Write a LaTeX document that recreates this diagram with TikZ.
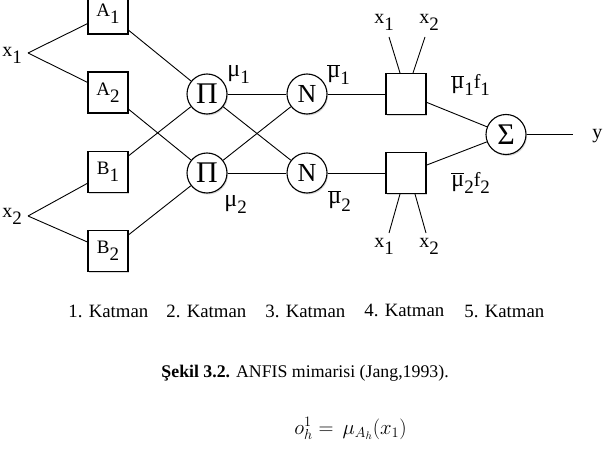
\documentclass[tikz,border=0pt]{standalone}
\usepackage{fontspec}
\setmainfont{Liberation Serif}
\usetikzlibrary{shadows}

\newcommand{\lo}[1]{\raisebox{-7pt}{\fontsize{19}{19}\selectfont #1}}
\newcommand{\muu}{{\fontsize{24}{24}\selectfont μ}}
\newcommand{\mub}{$\overline{\mbox{\muu}}$}

\begin{document}
\begin{tikzpicture}[x=1pt, y=-1pt, line width=0.9pt,
	lbl/.style={font=\fontsize{20}{20}\selectfont, inner sep=0pt, anchor=base west},
	mfbox/.style={draw, fill=white, line width=1.1pt, minimum width=40pt, minimum height=41pt, inner sep=0pt, font=\fontsize{19}{19}\selectfont,
		drop shadow={shadow xshift=1pt, shadow yshift=-1.5pt, opacity=0.3}},
	opnode/.style={draw, circle, fill=white, line width=1.1pt, minimum size=40pt, inner sep=0pt,
		drop shadow={shadow xshift=1pt, shadow yshift=-1.5pt, opacity=0.3}},
	katman/.style={font=\fontsize{18.8}{18.8}\selectfont, inner sep=0pt, anchor=base west}]
	\useasboundingbox (0,0) rectangle (607,473);
	
	\foreach \x/\y/\name/\lab in {
		108/13.5/A1/A\lo{1},
		108/92.5/A2/A\lo{2},
		108/172/B1/B\lo{1},
		108/251/B2/B\lo{2}
	}
	{
		\node [mfbox] (\name) at (\x,\y) {\lab};
	}
	
	\node [opnode, font=\fontsize{30}{30}\selectfont] (P1) at (207,94) {Π};
	\node [opnode, font=\fontsize{30}{30}\selectfont] (P2) at (207,173) {Π};
	\node [opnode, font=\fontsize{26}{26}\selectfont] (N1) at (307,94) {N};
	\node [opnode, font=\fontsize{26}{26}\selectfont] (N2) at (307,173) {N};
	\node [mfbox] (C1) at (406,94) {};
	\node [mfbox] (C2) at (406,173) {};
	\node [opnode, font=\fontsize{30}{30}\selectfont] (S) at (506,134.5) {Σ};
	
	\coordinate (x1in) at (28,53);
	\coordinate (x2in) at (28,216);
	\coordinate (t1) at (389,37);
	\coordinate (t2) at (425,37);
	\coordinate (b1) at (389,233);
	\coordinate (b2) at (426,233);
	\coordinate (yout) at (573,134.5);
	
	\draw (x1in) -- (A1);
	\draw (x1in) -- (A2);
	\draw (x2in) -- (B1);
	\draw (x2in) -- (B2);
	\draw (A1) -- (P1);
	\draw (B1) -- (P1);
	\draw (A2) -- (P2);
	\draw (B2) -- (P2);
	\draw (P1) -- (N1);
	\draw (P1) -- (N2);
	\draw (P2) -- (N1);
	\draw (P2) -- (N2);
	\draw (N1) -- (C1);
	\draw (N2) -- (C2);
	\draw ([xshift=-6pt]C1.north) -- (t1);
	\draw ([xshift=7pt]C1.north) -- (t2);
	\draw ([xshift=-6pt]C2.south) -- (b1);
	\draw ([xshift=9pt]C2.south) -- (b2);
	\draw (C1) -- (S);
	\draw (C2) -- (S);
	\draw (S) -- (yout);
	
	\node [lbl] (lx1) at (2,57) {x\lo{1}};
	\node [lbl] (lx2) at (2,217) {x\lo{2}};
	\node [lbl] (lt1) at (374,24) {x\lo{1}};
	\node [lbl] (lt2) at (419,24) {x\lo{2}};
	\node [lbl] (lb1) at (374,247) {x\lo{1}};
	\node [lbl] (lb2) at (419,247) {x\lo{2}};
	\node [lbl] (mu1) at (227,77) {\muu\lo{1}};
	\node [lbl] (mu2) at (224,206) {\muu\lo{2}};
	\node [lbl] (mub1) at (327,78) {\mub\lo{1}};
	\node [lbl] (mub2) at (328,204) {\mub\lo{2}};
	\node [lbl] (f1) at (451,89) {\mub\lo{1}f\lo{1}};
	\node [lbl] (f2) at (451,186) {\mub\lo{2}f\lo{2}};
	\node [lbl] (ly) at (592,139) {y};
	
	\foreach \x/\y/\n in {68/317/1, 166/317/2, 265/317/3, 364/316/4, 464/317/5}
	{
		\node [katman] (k\n) at (\x,\y) {\n. Katman};
	}
	
	\node [font=\fontsize{17.8}{17.8}\selectfont, inner sep=0pt, anchor=base west] (cap) at (161,377) {\textbf{Şekil 3.2.} ANFIS mimarisi (Jang,1993).};
	\node [font=\fontsize{21}{21}\selectfont, inner sep=0pt, anchor=base west] (eq) at (294,434) {$o_h^1 =\, \mu_{A_h}(x_1)$};
\end{tikzpicture}
\end{document}
